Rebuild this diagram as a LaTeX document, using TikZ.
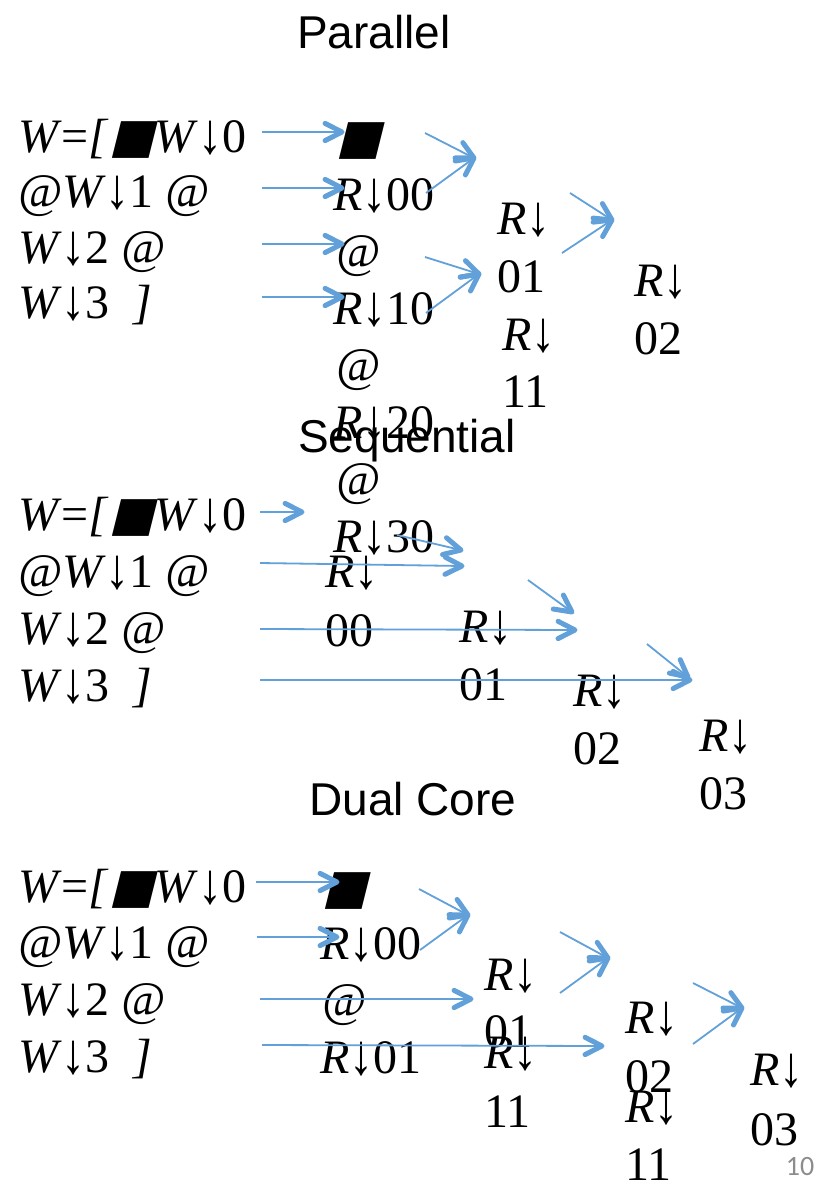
\documentclass[tikz,border=0pt]{standalone}
\usepackage{fontspec}
\usepackage{graphicx}
\setmainfont{Liberation Serif}
\newfontfamily\titlefont{Liberation Sans}
\newfontfamily\pagefont{Carlito}
\newfontfamily\blkfont[FakeSlant=0.25]{DejaVu Sans}
\usetikzlibrary{calc}
\definecolor{linkblue}{RGB}{97,160,216}
\definecolor{pagegray}{RGB}{140,140,140}
% pieces of the garbled equations
\newcommand\blk{{\blkfont ■}}
\newcommand\da{\raisebox{-1.5pt}{\scalebox{1}[1.2]{\textit{↓}}}}
\newcommand\iw{\textit{W}\da}
\newcommand\ir{\textit{R}\da}
\newcommand\at{\textit{@}}
% arrow between two named free end points, with an open chevron head
\newcommand\link[3]{%
  \coordinate (#1a) at (#2);
  \coordinate (#1b) at (#3);
  \draw[conn] (#1a) -- (#1b);
  \draw[chev] ($(#1b)!19pt!27:(#1a)$) -- (#1b) -- ($(#1b)!19pt!-27:(#1a)$);}
\begin{document}
\begin{tikzpicture}[x=1pt,y=-1pt,
  every node/.style={inner sep=0pt,outer sep=0pt},
  eq/.style={anchor=base west,font=\fontsize{48}{50}\selectfont},
  ttl/.style={anchor=base,font=\titlefont\fontsize{46}{50}\selectfont},
  conn/.style={draw=linkblue,line width=1.8pt},
  chev/.style={draw=linkblue,line width=5pt,line cap=round,line join=round}]
\useasboundingbox (0,0) rectangle (817,1189);

% ---------------- Parallel ----------------
\node[ttl] (tpar) at (374,48) {Parallel};
\node[eq] (pw0) at (18,152) {\textit{W}=\textit{[}\blk\iw 0};
\node[eq] (pw1) at (18,207) {\at\iw 1 \at};
\node[eq] (pw2) at (18,263) {\iw 2 \at};
\node[eq] (pw3) at (18,318) {\iw 3\hspace{24pt}\textit{]}};

\node[eq] (pr0) at (336,153) {\blk};
\node[eq] (pr1) at (333,210) {\ir 00};
\node[eq] (pr2) at (336,267) {\at};
\node[eq] (pr3) at (333,324) {\ir 10};
\node[eq] (pr4) at (336,381) {\at};
\node[eq] (pr5) at (333,438) {\ir 20};
\node[eq] (pr6) at (336,495) {\at};
\node[eq] (pr7) at (333,552) {\ir 30};

\node[eq] (pa1) at (497,234) {\ir};
\node[eq] (pa2) at (497,292) {01};
\node[eq] (pa3) at (502,350) {\ir};
\node[eq] (pa4) at (502,407) {11};

\node[eq] (pb1) at (634,296) {\ir};
\node[eq] (pb2) at (634,354) {02};

\link{p1}{262,132}{342,132}
\link{p2}{262,188}{342,188}
\link{p3}{262,244}{342,244}
\link{p4}{262,297}{342,297}
\link{p5}{425,133}{474,158}
\link{p6}{426,193}{474,158}
\link{p7}{425,257}{479,274}
\link{p8}{426,313}{479,274}
\link{p9}{570,193}{612,220}
\link{p10}{562,253}{612,220}

% ---------------- Sequential ----------------
\node[ttl] (tseq) at (407,452) {Sequential};
\node[eq] (sw0) at (18,530) {\textit{W}=\textit{[}\blk\iw 0};
\node[eq] (sw1) at (18,587) {\at\iw 1 \at};
\node[eq] (sw2) at (18,644) {\iw 2 \at};
\node[eq] (sw3) at (18,701) {\iw 3\hspace{24pt}\textit{]}};

\node[eq] (sr1) at (325,587) {\ir};
\node[eq] (sr2) at (325,646) {00};
\node[eq] (sr3) at (459,642) {\ir};
\node[eq] (sr4) at (459,700) {01};
\node[eq] (sr5) at (573,706) {\ir};
\node[eq] (sr6) at (573,764) {02};
\node[eq] (sr7) at (699,751) {\ir};
\node[eq] (sr8) at (699,809) {03};

\link{s1}{260,512}{302,512}
\link{s2}{260,563}{462,566}
\link{s3}{260,629}{575,630}
\link{s4}{260,680}{690,680}
\link{s5}{397,535}{461,550}
\link{s6}{528,580}{572,612}
\link{s7}{647,644}{688,677}

% ---------------- Dual Core ----------------
\node[ttl] (tdual) at (413,815) {Dual Core};
\node[eq] (dw0) at (18,902) {\textit{W}=\textit{[}\blk\iw 0};
\node[eq] (dw1) at (18,958) {\at\iw 1 \at};
\node[eq] (dw2) at (18,1015) {\iw 2 \at};
\node[eq] (dw3) at (18,1072) {\iw 3\hspace{24pt}\textit{]}};

\node[eq] (dr0) at (322,903) {\blk};
\node[eq] (dr1) at (320,959) {\ir 00};
\node[eq] (dr2) at (322,1016) {\at};
\node[eq] (dr3) at (320,1073) {\ir 01};

\node[eq] (da1) at (484,990) {\ir};
\node[eq] (da2) at (484,1047) {01};
\node[eq] (da3) at (484,1068) {\ir};
\node[eq] (da4) at (484,1127) {11};

\node[eq] (db1) at (625,1033) {\ir};
\node[eq] (db2) at (625,1092) {02};
\node[eq] (db3) at (625,1122) {\ir};
\node[eq] (db4) at (625,1180) {11};

\node[eq] (dc1) at (750,1085) {\ir};
\node[eq] (dc2) at (750,1145) {03};

\link{d1}{256,882}{337,882}
\link{d2}{257,937}{337,937}
\link{d3}{260,999}{471,999}
\link{d4}{262,1045}{602,1046}
\link{d5}{419,889}{468,915}
\link{d6}{420,950}{468,915}
\link{d7}{560,932}{608,958}
\link{d8}{560,993}{608,958}
\link{d9}{693,983}{742,1008}
\link{d10}{693,1044}{742,1008}

% slide number
\node[anchor=base,font=\pagefont\fontsize{28}{30}\selectfont,text=pagegray] (pg) at (800,1175) {10};
\end{tikzpicture}
\end{document}
